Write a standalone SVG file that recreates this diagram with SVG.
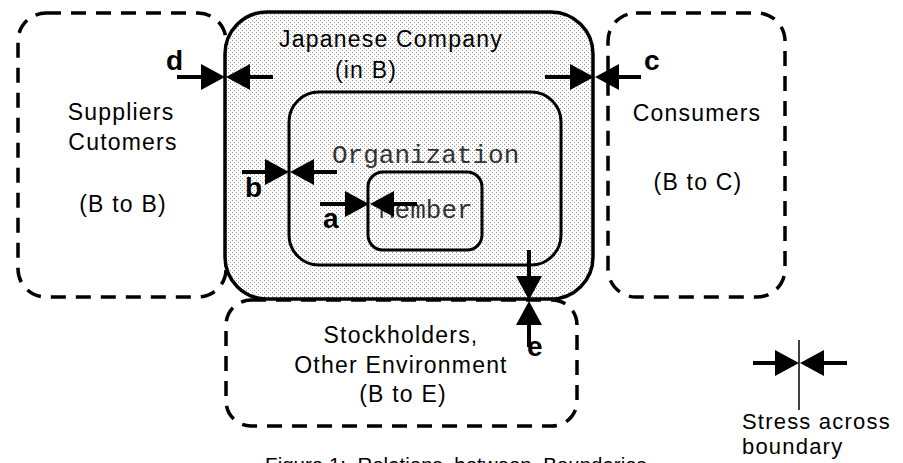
<svg xmlns="http://www.w3.org/2000/svg" width="903" height="463" viewBox="0 0 903 463">
  <defs>
    <!-- light stipple used inside the company boundary -->
    <pattern id="stipple" width="4" height="4" patternUnits="userSpaceOnUse">
      <rect width="4" height="4" fill="#ffffff"/>
      <rect x="0" y="0" width="1" height="1" fill="#9a9a9a"/>
      <rect x="2" y="2" width="1" height="1" fill="#9a9a9a"/>
    </pattern>
    <!-- filled triangular head, attached at its base -->
    <marker id="head" markerUnits="userSpaceOnUse" markerWidth="24" markerHeight="26" viewBox="0 0 24 26" refX="0" refY="13" orient="auto">
      <path d="M0,0 L24,13 L0,26 z" fill="#000"/>
    </marker>
  </defs>
  <style>
    .outer { fill: none; stroke: #000; stroke-width: 3.5; stroke-dasharray: 15 10; }
    .company { fill: url(#stipple); stroke: #000; stroke-width: 3.5; }
    .inner { fill: none; stroke: #000; stroke-width: 3; }
    .lbl { font-family: "Liberation Sans", Arial, sans-serif; font-size: 23px; letter-spacing: 1.2px; text-anchor: middle; fill: #000; }
    .mono { font-family: "Courier New", "Liberation Mono", monospace; font-size: 26px; fill: #333; }
    .tag { font-family: "Liberation Sans", Arial, sans-serif; font-weight: bold; font-size: 28px; fill: #000; }
    .stress { stroke: #000; stroke-width: 4; marker-end: url(#head); }
    .key { font-family: "Liberation Sans", Arial, sans-serif; font-size: 22px; letter-spacing: 1.2px; fill: #000; }
    .cap { font-family: "Liberation Sans", Arial, sans-serif; font-size: 20.5px; text-anchor: middle; fill: #000; white-space: pre; }
  </style>

  <rect width="903" height="463" fill="#ffffff"/>

  <!-- external parties (dashed boundaries) -->
  <g id="suppliers">
    <rect class="outer" x="18" y="13" width="208" height="284" rx="28"/>
    <text class="lbl" x="121" y="120">Suppliers</text>
    <text class="lbl" x="123" y="150">Cutomers</text>
    <text class="lbl" x="123" y="212">(B to B)</text>
  </g>

  <g id="consumers">
    <rect class="outer" x="608" y="13" width="177" height="284" rx="28"/>
    <text class="lbl" x="697" y="121">Consumers</text>
    <text class="lbl" x="698" y="190">(B to C)</text>
  </g>

  <g id="stockholders">
    <rect class="outer" x="226" y="300" width="351" height="126" rx="25"/>
    <text class="lbl" x="401" y="343">Stockholders,</text>
    <text class="lbl" x="401" y="373">Other Environment</text>
    <text class="lbl" x="403" y="402">(B to E)</text>
  </g>

  <!-- the company and its nested boundaries -->
  <g id="company">
    <rect class="company" x="225" y="12" width="368" height="287" rx="42"/>
    <text class="lbl" x="391" y="47">Japanese Company</text>
    <text class="lbl" x="366" y="78">(in B)</text>
  </g>

  <g id="organization">
    <rect class="inner" x="289" y="92" width="272" height="173" rx="30"/>
    <text class="mono" x="332" y="163">Organization</text>
  </g>

  <g id="member">
    <rect class="inner" x="368" y="172" width="114" height="78" rx="15"/>
    <text class="mono" x="379" y="218">Member</text>
  </g>

  <!-- stress arrows meeting at each boundary -->
  <g id="connectors">
    <line class="stress" x1="177" y1="77" x2="201" y2="77"/>
    <line class="stress" x1="273" y1="77" x2="250" y2="77"/>
    <text class="tag" x="166" y="70">d</text>

    <line class="stress" x1="545" y1="77" x2="570" y2="77"/>
    <line class="stress" x1="641" y1="77" x2="619" y2="77"/>
    <text class="tag" x="644" y="70">c</text>

    <line class="stress" x1="242" y1="172" x2="265" y2="172"/>
    <line class="stress" x1="337" y1="172" x2="314" y2="172"/>
    <text class="tag" x="245" y="197">b</text>

    <line class="stress" x1="320" y1="204" x2="345" y2="204"/>
    <line class="stress" x1="417" y1="204" x2="394" y2="204"/>
    <text class="tag" x="323" y="228">a</text>

    <line class="stress" x1="529" y1="250" x2="529" y2="276"/>
    <line class="stress" x1="529" y1="347" x2="529" y2="325"/>
    <text class="tag" x="527" y="356">e</text>
  </g>

  <!-- key -->
  <g id="legend">
    <line x1="799" y1="340" x2="799" y2="410" stroke="#000" stroke-width="1.5"/>
    <line class="stress" x1="753" y1="363" x2="775" y2="363"/>
    <line class="stress" x1="847" y1="363" x2="824" y2="363"/>
    <text class="key" x="742" y="429">Stress across</text>
    <text class="key" x="742" y="454">boundary</text>
  </g>

  <text class="cap" x="456" y="472">Figure 1:  Relations  between  Boundaries</text>
</svg>
